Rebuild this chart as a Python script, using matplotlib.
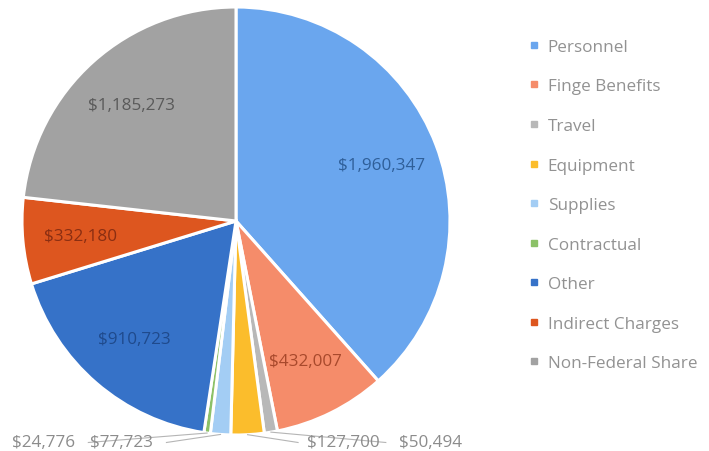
import numpy as np
import matplotlib.pyplot as plt
from matplotlib.lines import Line2D

# Budget categories and amounts (clockwise from 12 o'clock)
categories = ["Personnel", "Finge Benefits", "Travel", "Equipment", "Supplies",
              "Contractual", "Other", "Indirect Charges", "Non-Federal Share"]
amounts = [1960347, 432007, 50494, 127700, 77723, 24776, 910723, 332180, 1185273]
colors = ["#6aa6ee", "#f58c6a", "#b8b8b8", "#fbbd2c", "#a3cdf4",
          "#8cc168", "#3672c8", "#dd561f", "#a2a2a2"]
label_colors = ["#2f5f99", "#a8492c", "#888888", "#888888", "#888888",
                "#888888", "#1f4a8c", "#8a2e12", "#5a5a5a"]

# small slices get outside labels at the bottom
small = {"Travel": (0.91, "left"), "Equipment": (0.50, "left"),
         "Supplies": (-0.535, "right"), "Contractual": (-0.9, "right")}

plt.rcParams['font.family'] = ['Open Sans', 'DejaVu Sans']

fig = plt.figure(figsize=(7.09, 4.52), dpi=100)
ax = fig.add_axes([22 / 709, 16 / 452, 428 / 709, 428 / 452])

wedges, _ = ax.pie(amounts, colors=colors, startangle=90, counterclock=False,
                   radius=1.0, wedgeprops=dict(edgecolor="white", linewidth=2.2))
ax.set_xlim(-1, 1)
ax.set_ylim(-1, 1)
ax.set_aspect("equal")
ax.axis("off")

for w, cat, val, lc in zip(wedges, categories, amounts, label_colors):
    txt = f"${val:,}"
    mid = np.deg2rad((w.theta1 + w.theta2) / 2)
    if cat in small:
        lx, side = small[cat]
        ax.text(lx, -1.035, txt, ha="center", va="center", fontsize=12.3,
                color="#8c8c8c")
        # leader line from the label to the slice tip
        px, py = 1.0 * np.cos(mid), 1.0 * np.sin(mid)
        x0 = lx - 0.21 if side == "left" else lx + 0.21
        ax.plot([x0, px], [-1.035, py], color="#b5b5b5", lw=0.8, clip_on=False)
    else:
        r = 0.73
        ax.text(r * np.cos(mid), r * np.sin(mid), txt, ha="center",
                va="center", fontsize=12.3, color=lc)

handles = [Line2D([0], [0], marker="s", linestyle="", markersize=4.5,
                  markerfacecolor=c, markeredgecolor=c) for c in colors]
fig.legend(handles, categories, loc="upper left",
           bbox_to_anchor=(522 / 709, 1 - 33 / 452), frameon=False,
           fontsize=12.3, labelcolor="#929292", handlelength=0.6,
           handletextpad=0.5, labelspacing=1.38, borderaxespad=0)

fig.savefig("out.png", dpi=100)
